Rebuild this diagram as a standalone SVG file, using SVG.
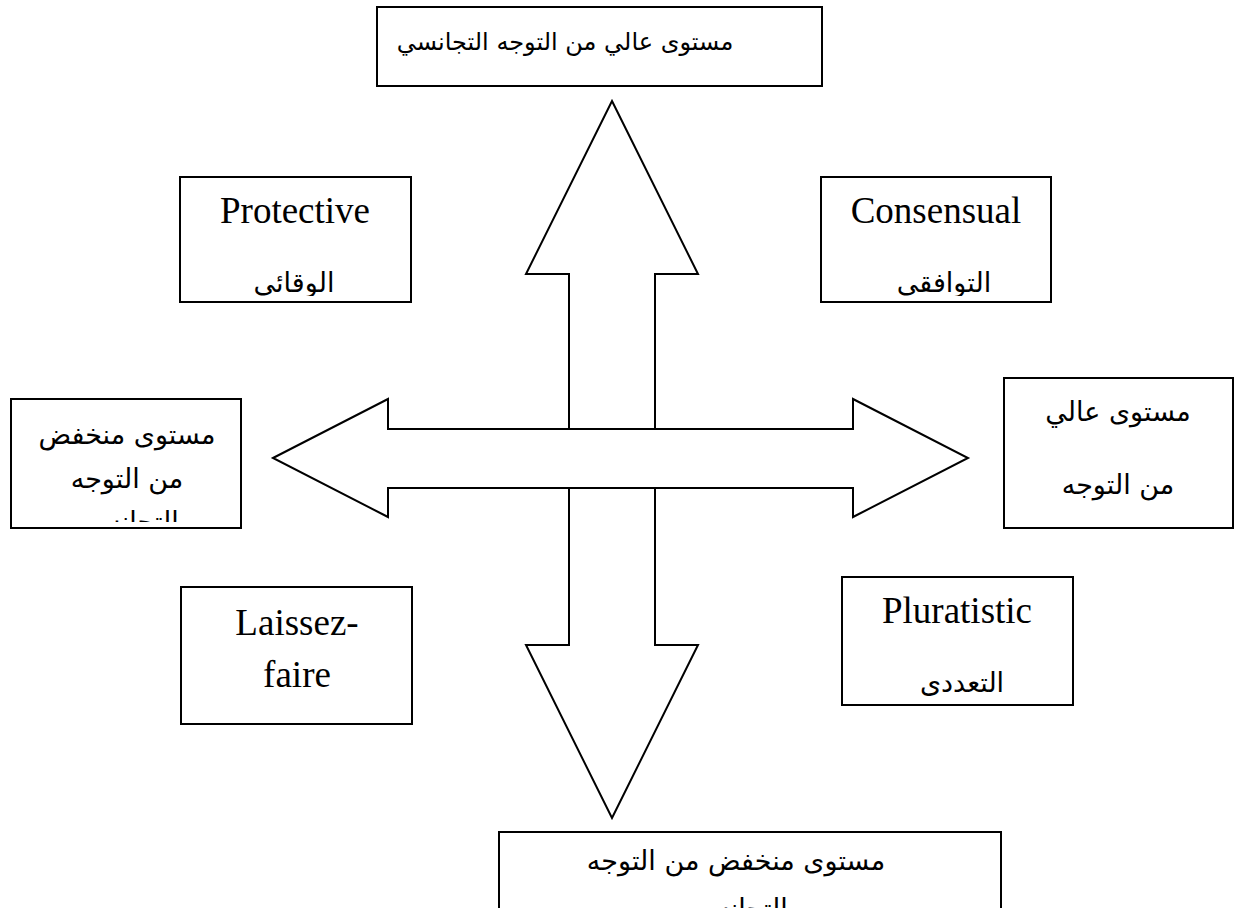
<svg xmlns="http://www.w3.org/2000/svg" width="1234" height="908" viewBox="0 0 1234 908">
<style>
.box{fill:#fff;stroke:#000;stroke-width:2}
.arr{fill:#fff;stroke:#000;stroke-width:2;stroke-linejoin:miter}
.en{font-family:"Liberation Serif","Times New Roman",serif;font-size:37px;fill:#000;text-anchor:middle}
.ar{font-family:"DejaVu Sans","Liberation Sans",sans-serif;font-size:27px;fill:#000;text-anchor:middle}
.ar24{font-size:24px}
</style>
<defs>
<clipPath id="cTop"><rect x="377" y="7" width="445" height="79"/></clipPath>
<clipPath id="cProt"><rect x="180" y="178" width="231" height="118"/></clipPath>
<clipPath id="cCons"><rect x="822" y="178" width="229" height="118"/></clipPath>
<clipPath id="cLow"><rect x="12" y="400" width="229" height="122"/></clipPath>
<clipPath id="cHigh"><rect x="1005" y="379" width="228" height="143"/></clipPath>
<clipPath id="cPlur"><rect x="843" y="578" width="229" height="118"/></clipPath>
<clipPath id="cBot"><rect x="500" y="833" width="500" height="75"/></clipPath>
</defs>
<g id="connectors">
<polygon class="arr" points="612,101 698,274 655,274 655,645 698,645 612,818 526,645 569,645 569,274 526,274"/>
<polygon class="arr" points="273,458 388,399 388,429 853,429 853,399 968,458 853,517 853,488 388,488 388,517"/>
</g>
<g id="node-top">
<rect class="box" x="377" y="7" width="445" height="79"/>
<g clip-path="url(#cTop)"><text class="ar ar24" x="565" y="50">مستوى عالي من التوجه التجانسي</text></g>
</g>
<g id="node-protective">
<rect class="box" x="180" y="177" width="231" height="125"/>
<text class="en" x="295" y="223">Protective</text>
<g clip-path="url(#cProt)"><text class="ar" x="294" y="292">الوقائي</text></g>
</g>
<g id="node-consensual">
<rect class="box" x="821" y="177" width="230" height="125"/>
<text class="en" x="936" y="223">Consensual</text>
<g clip-path="url(#cCons)"><text class="ar" x="944" y="292">التوافقي</text></g>
</g>
<g id="node-low">
<rect class="box" x="11" y="399" width="230" height="129"/>
<g clip-path="url(#cLow)">
<text class="ar" x="127" y="444">مستوى منخفض</text>
<text class="ar" x="127" y="488">من التوجه</text>
<text class="ar" x="127" y="531">التجانسي</text>
</g>
</g>
<g id="node-high">
<rect class="box" x="1004" y="378" width="229" height="150"/>
<g clip-path="url(#cHigh)">
<text class="ar" x="1118" y="421">مستوى عالي</text>
<text class="ar" x="1118" y="494">من التوجه</text>
</g>
</g>
<g id="node-laissez">
<rect class="box" x="181" y="587" width="231" height="137"/>
<text class="en" x="297" y="635">Laissez-</text>
<text class="en" x="297" y="687">faire</text>
</g>
<g id="node-pluratistic">
<rect class="box" x="842" y="577" width="231" height="128"/>
<text class="en" x="957" y="623">Pluratistic</text>
<g clip-path="url(#cPlur)"><text class="ar" x="962" y="692">التعددي</text></g>
</g>
<g id="node-bottom">
<rect class="box" x="499" y="832" width="502" height="90"/>
<g clip-path="url(#cBot)">
<text class="ar" x="736" y="870">مستوى منخفض من التوجه</text>
<text class="ar" x="736" y="918">التجانسي</text>
</g>
</g>
</svg>
